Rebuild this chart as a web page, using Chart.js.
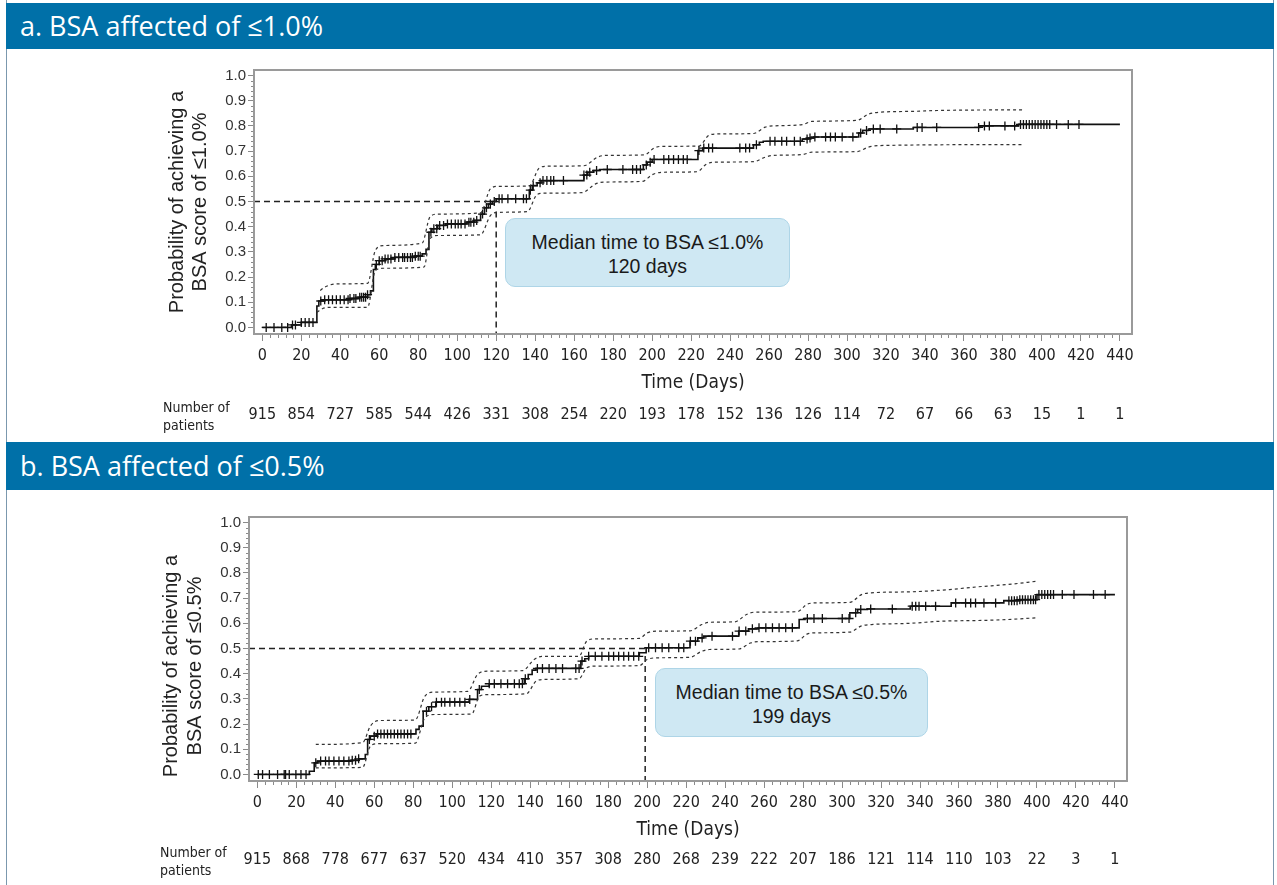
<!DOCTYPE html>
<html>
<head>
<meta charset="utf-8">
<script src="https://cdn.jsdelivr.net/npm/chart.js@4.4.1/dist/chart.umd.min.js"></script>
<style>
  html, body { margin: 0; padding: 0; background: #fff; }
  #page { position: relative; width: 1277px; height: 885px; overflow: hidden; background: #fff; }
  .side { position: absolute; left: 6px; top: 0; width: 1266px; height: 885px;
          border-left: 1px solid #7b98ae; border-right: 1px solid #7b98ae; }
  .hdr { position: absolute; left: 6px; width: 1268px; background: #0070a8; color: #fff;
         font-family: "Open Sans", "Noto Sans", sans-serif; font-size: 27px;
         padding-left: 14px; box-sizing: border-box; white-space: nowrap; }
  canvas { position: absolute; left: 0; }
  .callout { position: absolute; box-sizing: border-box; background: #cfe8f3;
             border: 1px solid #aed5e7; border-radius: 10px; text-align: center;
             font-family: "Liberation Sans", Arial, sans-serif; font-size: 19.5px;
             line-height: 24px; padding-top: 11px; color: #1a1a1a; }
</style>
</head>
<body>
<div id="page">
  <div class="side"></div>
  <div class="hdr" style="top:3px;height:46px;line-height:46px;">a. BSA affected of ≤1.0%</div>
  <canvas id="chartA" width="1277" height="391" style="top:49px"></canvas>
  <div class="callout" id="calloutA" style="left:505px;top:218px;width:285px;height:69px;"></div>
  <div class="hdr" style="top:442px;height:48px;line-height:48px;">b. BSA affected of ≤0.5%</div>
  <canvas id="chartB" width="1277" height="395" style="top:490px"></canvas>
  <div class="callout" id="calloutB" style="left:655px;top:668px;width:273px;height:69px;"></div>
</div>
<script>
// axes
const xTicks = [0, 20, 40, 60, 80, 100, 120, 140, 160, 180, 200, 220, 240, 260, 280, 300, 320, 340, 360, 380, 400, 420, 440];
const yTicks = [0.0, 0.1, 0.2, 0.3, 0.4, 0.5, 0.6, 0.7, 0.8, 0.9, 1.0];
const X_MIN = -4.26, X_MAX = 446.2;
const Y_MIN = -0.026, Y_MAX = 1.022;
const medianProb = 0.5;

// ---- panel a: BSA <= 1.0%
const timesA = [0, 15, 20, 28, 29, 32, 45, 50, 54, 55.5, 57, 58, 60, 63, 68, 78, 82, 84, 85.5, 87,
  90, 94, 105, 109, 112, 114, 116, 118, 120, 137, 138.5, 141, 143, 165, 167, 170, 173, 195.5, 197.5, 200,
  223.5, 226, 252, 255, 257, 277, 280, 283, 306, 308, 311, 334, 368, 388, 440];
const probA = [0, 0.01, 0.02, 0.085, 0.105, 0.11, 0.115, 0.12, 0.13, 0.145, 0.23, 0.25, 0.265, 0.272, 0.278, 0.283, 0.292, 0.31, 0.378, 0.392,
  0.405, 0.411, 0.418, 0.425, 0.45, 0.475, 0.49, 0.5, 0.511, 0.545, 0.563, 0.574, 0.583, 0.605, 0.616, 0.623, 0.627, 0.645, 0.656, 0.667,
  0.702, 0.712, 0.725, 0.735, 0.739, 0.748, 0.752, 0.756, 0.772, 0.782, 0.788, 0.794, 0.80, 0.806, 0.806];
const upperTA = [29.7, 32, 38, 54, 58, 62, 82, 86, 90, 112, 117, 121, 137, 142, 146, 165, 172, 176, 196, 201,
  205, 224, 229, 233, 252, 258, 262, 277, 282, 305, 311, 316, 335, 345, 390];
const upperA = [0.147, 0.16, 0.173, 0.175, 0.306, 0.325, 0.335, 0.438, 0.45, 0.455, 0.55, 0.56, 0.562, 0.632, 0.64, 0.642, 0.676, 0.683, 0.685, 0.712,
  0.719, 0.72, 0.762, 0.768, 0.77, 0.795, 0.80, 0.805, 0.818, 0.822, 0.847, 0.854, 0.858, 0.861, 0.864];
const lowerTA = [28, 31, 36, 54, 58, 62, 83, 86, 90, 112, 117, 121, 136, 141, 145, 164, 171, 175, 195, 200,
  205, 223, 228, 232, 252, 258, 262, 277, 282, 305, 311, 316, 390];
const lowerA = [0.06, 0.075, 0.08, 0.08, 0.226, 0.235, 0.24, 0.352, 0.365, 0.368, 0.444, 0.457, 0.46, 0.528, 0.533, 0.535, 0.57, 0.577, 0.58, 0.606,
  0.616, 0.618, 0.649, 0.656, 0.658, 0.676, 0.683, 0.686, 0.696, 0.698, 0.716, 0.722, 0.726];
const censorA = [2, 6, 10, 13, 15.5, 17, 20, 22, 24, 26,
  30, 32, 34, 36, 38, 40, 42, 44, 45, 47, 48, 50, 51, 52, 53, 54,
  58.5, 60, 61.5, 63, 64.5, 66, 68, 70, 72, 73, 74.5, 76, 77, 78.5, 80, 81,
  86.5, 88, 89.5, 91, 93, 95, 97, 99, 100.5, 102, 104, 106, 107, 108.5, 110,
  113, 115, 117, 119, 121.5, 123, 126, 130, 134, 135.5, 137.5, 139,
  142.5, 144, 146, 148, 149.5, 154.5, 165, 166.5, 168, 171.5, 177,
  185, 190, 192, 194, 197, 199, 201, 206, 208.5, 211, 213.5, 216, 218,
  224, 226.5, 229, 231, 245, 248, 250, 253.5, 260.5, 263, 266.5, 269, 273, 276,
  279.5, 281, 283.5, 289, 291.5, 294, 297.5, 303, 307, 310, 313.5, 317,
  325.5, 336, 338.5, 346, 367.5, 370.5, 373, 381, 386,
  389, 390.5, 392, 393.5, 395, 396.5, 398, 399.5, 401, 402.5, 404, 407.5, 413.5, 419];
const atRiskA = [915, 854, 727, 585, 544, 426, 331, 308, 254, 220, 193, 178, 152, 136, 126, 114, 72, 67, 66, 63, 15, 1, 1];
const medianA = 120;

// ---- panel b: BSA <= 0.5%
const timesB = [0, 26.7, 29.2, 31, 48, 52, 55.4, 56.6, 58, 61, 81.4, 83, 85.1, 88, 91.6, 108.7, 113, 115, 119, 137,
  139, 141, 143, 166, 168, 170, 196, 199.5, 222, 226, 229, 247, 252, 257, 278, 281, 304, 308, 313, 335,
  356, 383, 391, 400, 440];
const probB = [0, 0.013, 0.046, 0.053, 0.056, 0.062, 0.079, 0.139, 0.152, 0.161, 0.179, 0.192, 0.251, 0.269, 0.287, 0.298, 0.337, 0.35, 0.36, 0.38,
  0.397, 0.414, 0.421, 0.45, 0.459, 0.469, 0.483, 0.503, 0.529, 0.542, 0.549, 0.569, 0.578, 0.582, 0.615, 0.619, 0.642, 0.655, 0.657, 0.668,
  0.681, 0.69, 0.694, 0.714, 0.714];
const upperTB = [30, 54, 58, 62, 81, 86, 91, 108, 113, 118, 136, 142, 146, 165, 169, 173, 196, 200, 205, 222,
  228, 232, 245, 251, 255, 277, 282, 286, 304, 310, 315, 335, 355, 370, 385, 400];
const upperB = [0.119, 0.126, 0.192, 0.214, 0.216, 0.311, 0.327, 0.33, 0.397, 0.41, 0.412, 0.456, 0.469, 0.469, 0.529, 0.538, 0.54, 0.562, 0.569, 0.57,
  0.595, 0.604, 0.606, 0.635, 0.644, 0.646, 0.675, 0.681, 0.683, 0.714, 0.721, 0.725, 0.734, 0.745, 0.754, 0.767];
const lowerTB = [30, 54, 58, 62, 81, 86, 91, 110, 114, 118, 138, 143, 147, 165, 169, 173, 196, 200, 205, 222,
  228, 232, 247, 253, 257, 277, 282, 286, 304, 310, 315, 335, 350, 375, 385, 400];
const lowerB = [0.026, 0.028, 0.112, 0.122, 0.124, 0.225, 0.238, 0.24, 0.311, 0.317, 0.32, 0.37, 0.377, 0.38, 0.423, 0.43, 0.432, 0.456, 0.463, 0.465,
  0.489, 0.496, 0.498, 0.522, 0.527, 0.53, 0.557, 0.562, 0.565, 0.59, 0.595, 0.6, 0.608, 0.612, 0.615, 0.622];
const censorB = [0.5, 2.7, 6.2, 10.4, 13.8, 14.5, 16.4, 19.8, 22.4, 25,
  30, 32.5, 35, 36.8, 39.3, 41.9, 44.4, 47, 48.7, 50.4, 52,
  57.5, 60, 61.7, 63.4, 65.1, 66.8, 68.5, 70.3, 72, 73.7, 75.4, 77.1, 78.8,
  86.8, 89.4, 91.9, 94.5, 96.2, 98.8, 101.3, 103.9, 106.5, 109,
  113.9, 119, 121.6, 125, 128.4, 131.9, 134.4, 136, 137.5,
  143.7, 146.3, 149.7, 153.2, 156.6, 163.4, 165.1,
  166.6, 170, 173.4, 176.8, 180.3, 182.8, 185.4, 188, 190.5, 193.1, 195.7,
  200.8, 204.3, 207.7, 211.1, 216.2, 218.8, 222.2, 224.8, 228.2, 233.3,
  243.8, 247.2, 250.6, 254, 257.4, 260.9, 264.3, 267.7, 271.1, 274.5,
  282.2, 285.6, 289.9, 300.1, 303.6, 307, 309.6,
  314.7, 325.8, 336, 337.8, 339.5, 342.9, 348,
  358.3, 363.4, 366, 368.5, 372.8, 378.8,
  385.6, 387, 388.4, 389.8, 391.2, 392.6, 394, 395.4, 396.8, 398.2, 399.3,
  401, 402.5, 404, 405.5, 407, 408.5, 413, 419, 429, 435];
const atRiskB = [915, 868, 778, 677, 637, 520, 434, 410, 357, 308, 280, 268, 239, 222, 207, 186, 121, 114, 110, 103, 22, 3, 1];
const medianB = 199;

const NARROW = '"Liberation Sans Narrow", "Arial Narrow", "DejaVu Sans Condensed", sans-serif';
const SANS = '"Liberation Sans", Arial, sans-serif';

// value of the step curve at time t
function stepAt(times, probs, t) {
    let v = probs[0];
    for (let i = 0; i < times.length; i++) {
        if (times[i] <= t) v = probs[i];
    }
    return v;
}

function pts(xs, ys) {
    return xs.map((x, i) => ({ x: x, y: ys[i] }));
}

// frame, minor ticks, axis titles and the number-at-risk row
function decor(p) {
    return {
        id: "kmDecor",
        afterDraw(chart) {
            const ctx = chart.ctx;
            const a = chart.chartArea;
            const x = chart.scales.x;
            const y = chart.scales.y;
            ctx.save();

            ctx.strokeStyle = "#8a8a8a";
            ctx.lineWidth = 1;
            ctx.beginPath();
            for (let d = 0; d <= 440; d += 4) {
                if (d % 20 === 0) continue;
                const px = Math.round(x.getPixelForValue(d)) + 0.5;
                ctx.moveTo(px, a.bottom);
                ctx.lineTo(px, a.bottom + 4);
            }
            for (let k = 0; k <= 50; k++) {
                if (k % 5 === 0) continue;
                const py = Math.round(y.getPixelForValue(k * 0.02)) + 0.5;
                ctx.moveTo(a.left, py);
                ctx.lineTo(a.left - 3, py);
            }
            ctx.stroke();

            ctx.strokeStyle = "#9a9a9a";
            ctx.lineWidth = 2;
            ctx.strokeRect(a.left, a.top, a.right - a.left, a.bottom - a.top);

            // y title
            ctx.fillStyle = "#222";
            ctx.font = "20px " + SANS;
            ctx.textAlign = "center";
            ctx.textBaseline = "middle";
            const cy = (a.top + a.bottom) / 2 + p.yTitleShift;
            p.yTitle.forEach((line, i) => {
                ctx.save();
                ctx.translate(p.yTitleX[i], cy);
                ctx.rotate(-Math.PI / 2);
                ctx.fillText(line, 0, 0);
                ctx.restore();
            });

            // x title
            ctx.font = "19px " + NARROW;
            ctx.fillText("Time (Days)", (a.left + a.right) / 2, a.bottom + 49);

            // number at risk
            ctx.font = "16px " + NARROW;
            xTicks.forEach((v, i) => {
                ctx.fillText(String(p.atRisk[i]), x.getPixelForValue(v), a.bottom + p.riskDy);
            });
            ctx.textAlign = "left";
            ctx.font = "14px " + NARROW;
            ctx.fillText("Number of", p.rowLabelX, a.bottom + p.riskDy - 7);
            ctx.fillText("patients", p.rowLabelX, a.bottom + p.riskDy + 11);

            ctx.restore();
        },
    };
}

function buildChart(id, p) {
    const curve = pts(p.times, p.probs);
    const censor = p.censor.map((t) => ({ x: t, y: stepAt(p.times, p.probs, t) }));
    const medH = [{ x: X_MIN, y: medianProb }, { x: p.median, y: medianProb }];
    const medV = [{ x: p.median, y: p.medianFoot }, { x: p.median, y: Y_MIN }];
    const band = { borderColor: "#333", borderWidth: 1.2, borderDash: [3, 3], pointRadius: 0, cubicInterpolationMode: "monotone" };
    const med = { borderColor: "#222", borderWidth: 1.5, borderDash: [6, 4], pointRadius: 0 };

    new Chart(document.getElementById(id), {
        type: "line",
        data: {
            datasets: [
                Object.assign({ data: pts(p.upperT, p.upper) }, band),
                Object.assign({ data: pts(p.lowerT, p.lower) }, band),
                Object.assign({ data: medH }, med),
                Object.assign({ data: medV }, med),
                { data: curve, borderColor: "#111", borderWidth: 1.6, stepped: "before", pointRadius: 0 },
                { data: censor, showLine: false, pointStyle: "cross", pointRadius: 4.5, borderColor: "#111", borderWidth: 1.3 },
            ],
        },
        options: {
            responsive: false,
            animation: false,
            layout: { padding: { top: p.padTop, right: p.padRight, left: 0, bottom: 0 } },
            plugins: { legend: { display: false }, tooltip: { enabled: false } },
            scales: {
                x: {
                    type: "linear",
                    min: X_MIN,
                    max: X_MAX,
                    afterBuildTicks: (s) => { s.ticks = xTicks.map((v) => ({ value: v })); },
                    afterFit: (s) => { s.height = p.xAxisH; },
                    grid: { drawOnChartArea: false, drawTicks: true, tickLength: 7, tickColor: "#8a8a8a" },
                    border: { display: false },
                    ticks: {
                        autoSkip: false, maxRotation: 0, padding: 5, color: "#222",
                        font: { family: NARROW, size: 16 },
                        callback: (v) => String(v),
                    },
                },
                y: {
                    type: "linear",
                    min: Y_MIN,
                    max: Y_MAX,
                    afterBuildTicks: (s) => { s.ticks = yTicks.map((v) => ({ value: v })); },
                    afterFit: (s) => { s.width = p.yAxisW; },
                    grid: { drawOnChartArea: false, drawTicks: true, tickLength: 6, tickColor: "#8a8a8a" },
                    border: { display: false },
                    ticks: {
                        autoSkip: false, padding: 2, color: "#333",
                        font: { family: SANS, size: 15 },
                        callback: (v) => Number(v).toFixed(1),
                    },
                },
            },
        },
        plugins: [decor(p)],
    });
}

buildChart("chartA", {
    times: timesA, probs: probA, upperT: upperTA, upper: upperA, lowerT: lowerTA, lower: lowerA,
    censor: censorA, atRisk: atRiskA, median: medianA, medianFoot: 0.46,
    padTop: 21, padRight: 145, yAxisW: 254, xAxisH: 106,
    yTitle: ["Probability of achieving a", "BSA score of \u22641.0%"], yTitleX: [177, 200], yTitleShift: 0,
    riskDy: 81, rowLabelX: 163,
});

buildChart("chartB", {
    times: timesB, probs: probB, upperT: upperTB, upper: upperB, lowerT: lowerTB, lower: lowerB,
    censor: censorB, atRisk: atRiskB, median: medianB, medianFoot: 0.47,
    padTop: 27, padRight: 150, yAxisW: 249, xAxisH: 104,
    yTitle: ["Probability of achieving a", "BSA score of \u22640.5%"], yTitleX: [171, 195], yTitleShift: 17,
    riskDy: 79, rowLabelX: 160,
});

document.getElementById("calloutA").innerHTML = "Median time to BSA \u22641.0%<br>" + medianA + " days";
document.getElementById("calloutB").innerHTML = "Median time to BSA \u22640.5%<br>" + medianB + " days";
</script>
</body>
</html>
